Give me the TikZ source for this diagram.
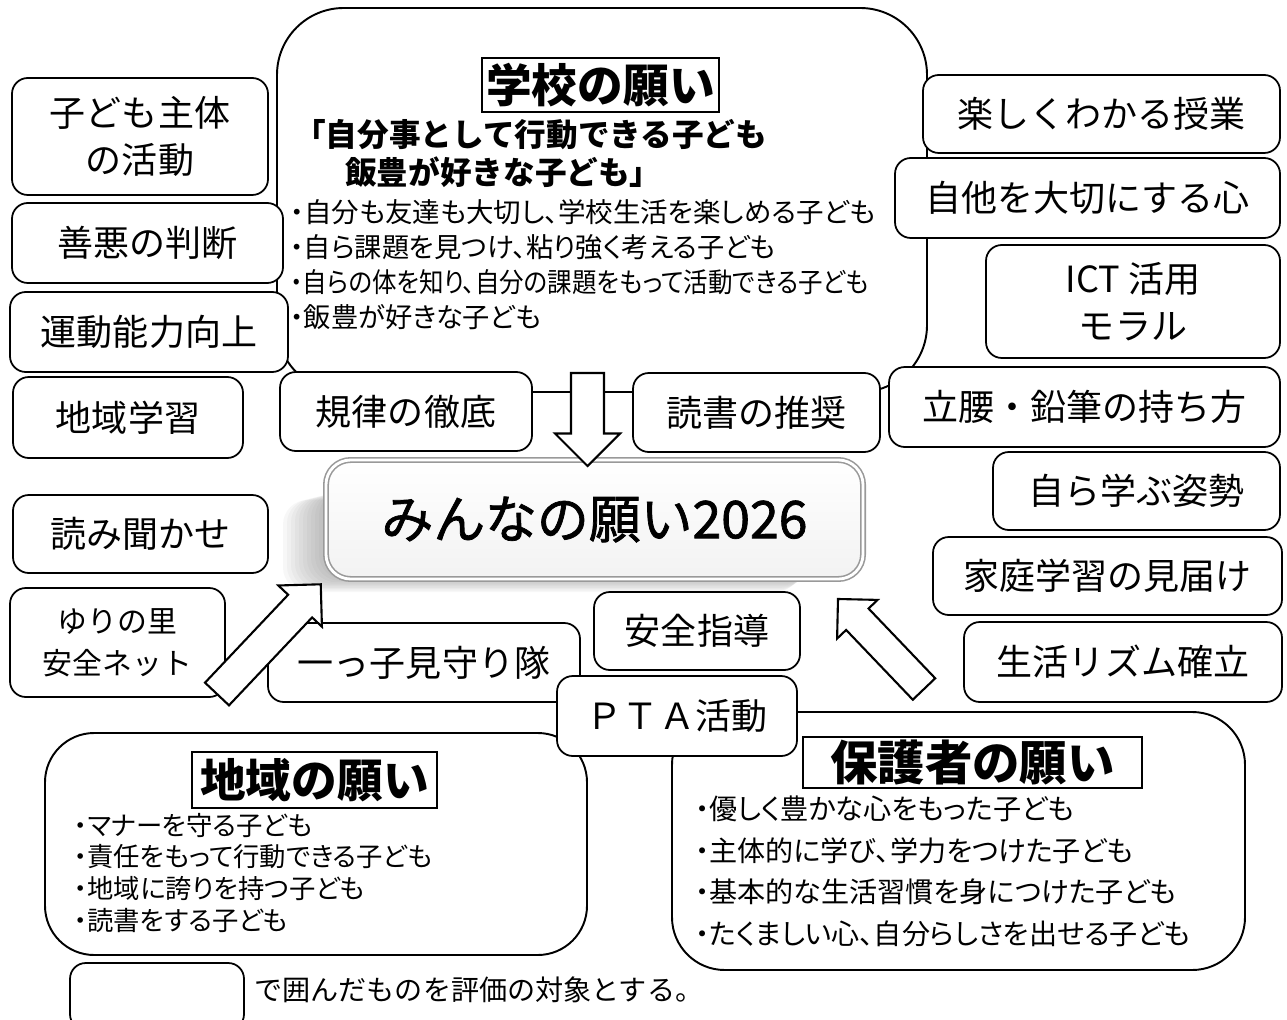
\documentclass[tikz,border=0pt]{standalone}
\usepackage{fontspec}
\usepackage{graphicx}
\setmainfont{Noto Sans CJK JP}
\newfontfamily\propgothic{Noto Sans CJK JP}[RawFeature=+palt]
\newfontfamily\medgothic{Noto Sans CJK JP}[FakeBold=1.4]
\usetikzlibrary{positioning}

\tikzset{
  wbox/.style={draw, fill=white, rounded corners=9pt, line width=1pt, align=center,
    inner sep=0pt, font=\fontsize{20.5}{27}\selectfont},
  sz/.style 2 args={minimum width=#1*0.02cm, minimum height=#2*0.02cm},
  bigbox/.style={draw, fill=white, rounded corners=30pt, line width=1.1pt},
  titlebox/.style={draw, line width=1.1pt, inner sep=0pt, font=\fontsize{26}{30}\selectfont\bfseries},
  wish/.style={anchor=west, inner sep=0pt, font=\propgothic\fontsize{15.5}{18}\selectfont},
  arrowbody/.style={draw, fill=white, line width=1.2pt, line join=miter},
}

% hollow block arrow: tail, angle, length, shaft half width, head half width
\newcommand{\fatarrow}[5]{%
  \draw[arrowbody, shift={#1}, rotate=#2] (0,-#4) -- ({#3-#5},-#4) -- ({#3-#5},-#5)
    -- (#3,0) -- ({#3-#5},#5) -- ({#3-#5},#4) -- (0,#4) -- cycle;}

\begin{document}
\begin{tikzpicture}[x=0.02cm, y=-0.02cm]
    \useasboundingbox (0,0) rectangle (1287,1020);
    \fill[white] (0,0) rectangle (1287,1020);

    % school wishes
    \node[bigbox, rounded corners=38pt, sz={650}{384}] (school) at (602,200) {};
    \node[titlebox, sz={237}{54}] (schooltitle) at (600.5,85) {学校の願い};
    \node[wish, font=\fontsize{18}{22}\selectfont\bfseries] (quote1) at (294,135) {「自分事として行動できる子ども};
    \node[wish, font=\fontsize{18}{22}\selectfont\bfseries] (quote2) at (345,172) {飯豊が好きな子ども」};
    \foreach \t/\k [count=\i] in {・自分も友達も大切し、学校生活を楽しめる子ども/1.01,
        ・自ら課題を見つけ、粘り強く考える子ども/1,
        ・自らの体を知り、自分の課題をもって活動できる子ども/0.9,
        ・飯豊が好きな子ども/1}
      \node[wish] (school\i) at (290,{177+35*\i}) {\scalebox{\k}[1]{\t}};

    % left column
    \node[wbox, sz={256}{117}] (shutai) at (140,136.5) {子ども主体\\の活動};
    \node[wbox, sz={271}{80}] (zenaku) at (147.5,243) {善悪の判断};
    \node[wbox, sz={278}{80}] (undo) at (149,332) {運動能力向上};
    \node[wbox, sz={230}{81}] (chiikigaku) at (128,417.5) {地域学習};
    \node[wbox, sz={255}{78}] (yomikika) at (140.5,534) {読み聞かせ};
    \node[wbox, sz={215}{109}, font=\fontsize{17}{24}\selectfont] (yurinet) at (117.5,642.5) {ゆりの里\\安全ネット};

    % right column
    \node[wbox, sz={357}{78}] (jugyo) at (1101.5,114) {楽しくわかる授業};
    \node[wbox, sz={385}{80}] (jita) at (1087.5,198) {自他を大切にする心};
    \node[wbox, sz={294}{113}] (ict) at (1133,301.5) {ICT 活用\\モラル};
    \node[wbox, sz={391}{80}] (ritsuyo) at (1084.5,407) {立腰・鉛筆の持ち方};
    \node[wbox, sz={287}{78}] (manabu) at (1136.5,491) {自ら学ぶ姿勢};
    \node[wbox, sz={349}{78}] (katei) at (1107.5,576) {家庭学習の見届け};
    \node[wbox, sz={318}{80}] (rhythm) at (1123,662) {生活リズム確立};

    % middle
    \node[wbox, sz={252}{79}] (kiritsu) at (406,411.5) {規律の徹底};
    \node[wbox, sz={247}{79}] (dokusho) at (756.5,412.5) {読書の推奨};
    \foreach \d in {1,...,10}
      \fill[gray, opacity=0.06, rounded corners=14pt] ({323-4*\d},{490+\d}) rectangle ({820-2*\d},{578+1.4*\d});
    \node[draw=gray!80, double=white, double distance=1.6pt, line width=0.9pt, rounded corners=14pt,
      top color=white, bottom color=gray!10, sz={537}{119},
      font=\medgothic\fontsize{29.5}{34}\selectfont] (minna) at (594.5,519.5) {みんなの願い2026};
    \fatarrow{(587.5,373)}{-90}{93}{16.5}{32.5}

    % community and parents wishes
    \node[bigbox, rounded corners=28pt, sz={542}{222}] (chiiki) at (316,844) {};
    \node[titlebox, sz={245}{56}] (chiikititle) at (314.5,780) {地域の願い};
    \foreach \t [count=\i] in {・マナーを守る子ども, ・責任をもって行動できる子ども,
        ・地域に誇りを持つ子ども, ・読書をする子ども}
      \node[wish, font=\propgothic\fontsize{15}{18}\selectfont] (chiiki\i) at (74,{794+31.5*\i}) {\t};

    \node[bigbox, sz={573}{258}] (hogosha) at (958.5,841) {};
    \node[titlebox, sz={339}{51}, font=\fontsize{27}{30}\selectfont\bfseries] (hogoshatitle) at (972.5,762.5) {保護者の願い};
    \foreach \t [count=\i] in {・優しく豊かな心をもった子ども, ・主体的に学び、学力をつけた子ども,
        ・基本的な生活習慣を身につけた子ども, ・たくましい心、自分らしさを出せる子ども}
      \node[wish, font=\propgothic\fontsize{16}{19}\selectfont] (hogosha\i) at (695,{767+41.7*\i}) {\t};

    \node[wbox, sz={312}{79}] (mimamori) at (424,662.5) {一っ子見守り隊};
    \node[wbox, sz={206}{78}] (anzen) at (697,631) {安全指導};
    \node[wbox, sz={240}{80}] (pta) at (677,716) {ＰＴＡ活動};

    \fatarrow{(217,694)}{46.6}{151}{16.5}{30}
    \fatarrow{(924,689)}{133.7}{124.5}{15.5}{28}

    % legend
    \node[wbox, sz={174}{67}] (legend) at (157,996.5) {};
    \node[wish, font=\fontsize{16}{18}\selectfont] (legendtext) at (254,990) {で囲んだものを評価の対象とする。};
\end{tikzpicture}
\end{document}
